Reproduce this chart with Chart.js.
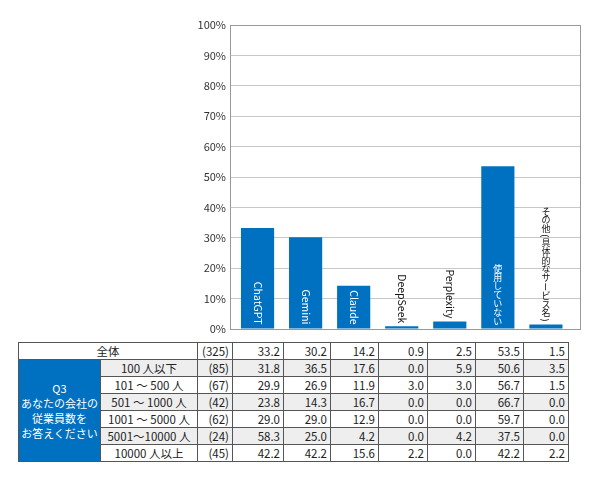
<!DOCTYPE html>
<html><head><meta charset="utf-8">
<script src="https://cdn.jsdelivr.net/npm/chart.js@4.4.1/dist/chart.umd.min.js"></script>
<style>
html,body{margin:0;padding:0;background:#fff;}
body{width:590px;height:491px;position:relative;overflow:hidden;font-family:"Noto Sans CJK JP","Noto Sans",sans-serif;}
#wrap{position:absolute;left:0;top:0;width:590px;height:340px;}
table{position:absolute;left:18px;top:342px;border-collapse:collapse;table-layout:fixed;font-size:11.5px;color:#222;}
tr{height:16px;}
td{border:1px solid #555;height:16px;padding:0 3px;line-height:13px;white-space:nowrap;overflow:hidden;}
td.num{text-align:right;}
td.lab{text-align:center;padding:0;}
td.q{background:#0070C0;color:#fff;text-align:center;line-height:15px;font-size:11px;padding:0;}
tr.g td.s{background:#eeeeee;}
</style></head>
<body>
<div id="wrap"><canvas id="c"></canvas></div>
<table id="t"></table>
<script>
const categories = ['ChatGPT','Gemini','Claude','DeepSeek','Perplexity','使用していない','その他(具体的なサービス名)'];
const totalLabel = '全体';
const totalN = 325;
const totalValues = [33.2, 30.2, 14.2, 0.9, 2.5, 53.5, 1.5];
const questionLabel = ['Q3','あなたの会社の','従業員数を','お答えください'];
const groupLabels = ['100 人以下','101 ～ 500 人','501 ～ 1000 人','1001 ～ 5000 人','5001～10000 人','10000 人以上'];
const groupN = [85, 67, 42, 62, 24, 45];
const groupValues = [
  [31.8, 36.5, 17.6, 0.0, 5.9, 50.6, 3.5],
  [29.9, 26.9, 11.9, 3.0, 3.0, 56.7, 1.5],
  [23.8, 14.3, 16.7, 0.0, 0.0, 66.7, 0.0],
  [29.0, 29.0, 12.9, 0.0, 0.0, 59.7, 0.0],
  [58.3, 25.0, 4.2, 0.0, 4.2, 37.5, 0.0],
  [42.2, 42.2, 15.6, 2.2, 0.0, 42.2, 2.2]
];
const yTickValues = [0,10,20,30,40,50,60,70,80,90,100];

const BLUE = '#0070C0';
const FONT = '"Noto Sans CJK JP","Noto Sans",sans-serif';

const framePlugin = {
  id:'frame',
  beforeDatasetsDraw(chart){
    const {ctx, chartArea:a} = chart;
    ctx.save();
    ctx.strokeStyle = '#999';
    ctx.lineWidth = 1;
    ctx.strokeRect(Math.round(a.left)+0.5, Math.round(a.top)+0.5, Math.round(a.right-a.left)-1, Math.round(a.bottom-a.top));
    ctx.restore();
  }
};

function isJa(s){ return /[\u3040-\u30ff\u4e00-\u9fff]/.test(s); }
const ROT = '()ー（）';

const labelPlugin = {
  id:'barLabels',
  afterDatasetsDraw(chart){
    const ctx = chart.ctx;
    const meta = chart.getDatasetMeta(0);
    meta.data.forEach((bar, i) => {
      const text = categories[i];
      const cx = bar.x;
      const top = bar.y, base = bar.base;
      ctx.save();
      if (isJa(text)) {
        const fs = 9;
        ctx.font = fs + 'px ' + FONT;
        const chars = [...text];
        const adv = chars.map(ch => ROT.includes(ch) ? (ch==='ー'? 8.8 : 5) : 8.8);
        const len = adv.reduce((s,v)=>s+v,0);
        let inside = (base - top) > len + 8;
        let endY = inside ? base - 3 : top - 2;
        ctx.fillStyle = inside ? '#fff' : '#111';
        let y = endY - len;
        ctx.textAlign = 'center'; ctx.textBaseline = 'middle';
        chars.forEach((ch, k) => {
          const cy = y + adv[k]/2;
          if (ROT.includes(ch)) {
            ctx.save(); ctx.translate(cx, cy); ctx.rotate(Math.PI/2); ctx.fillText(ch, 0, 0); ctx.restore();
          } else {
            ctx.fillText(ch, cx, cy);
          }
          y += adv[k];
        });
      } else {
        ctx.font = '10.5px ' + FONT;
        const len = ctx.measureText(text).width;
        let inside = (base - top) > len + 8;
        let endY = inside ? base - 4 : top - 3;
        ctx.fillStyle = inside ? '#fff' : '#111';
        ctx.translate(cx, endY);
        ctx.rotate(Math.PI/2);
        ctx.textAlign = 'right'; ctx.textBaseline = 'middle';
        ctx.fillText(text, 0, 0);
      }
      ctx.restore();
    });
  }
};

new Chart(document.getElementById('c'), {
  type:'bar',
  data:{
    datasets:[{
      data: totalValues.map((v,i)=>({x:i, y:v})),
      backgroundColor: BLUE,
      borderWidth:0,
      barPercentage:0.69,
      categoryPercentage:1
    }]
  },
  options:{
    responsive:true, maintainAspectRatio:false, animation:false,
    devicePixelRatio:1,
    layout:{padding:{top:25,right:9,bottom:11,left:0}},
    plugins:{legend:{display:false}, tooltip:{enabled:false}},
    scales:{
      x:{type:'linear', min:-0.573, max:6.73, offset:false, display:false},
      y:{
        min:0, max:100,
        afterBuildTicks(s){ s.ticks = yTickValues.map(v=>({value:v})); },
        afterFit(s){ s.width = 230; },
        border:{display:false},
        grid:{color:'#c8c8c8', lineWidth:1, drawTicks:false, borderDash:[1,2]},
        ticks:{padding:4, color:'#333', font:{family:FONT, size:11}, callback:v=>v+'%'}
      }
    }
  },
  plugins:[framePlugin, labelPlugin]
});

// table
const colW = [82, 97, 35, 51, 47, 48, 49, 48, 48, 45];
const t = document.getElementById('t');
const cg = document.createElement('colgroup');
colW.forEach(w=>{const c=document.createElement('col'); c.style.width=w+'px'; cg.appendChild(c);});
t.appendChild(cg);
function fmt(v){ return v.toFixed(1); }
let tr = document.createElement('tr');
tr.innerHTML = `<td class="lab" colspan="2">${totalLabel}</td><td class="num">(${totalN})</td>` + totalValues.map(v=>`<td class="num">${fmt(v)}</td>`).join('');
t.appendChild(tr);
groupLabels.forEach((lab, r) => {
  tr = document.createElement('tr');
  if (r % 2 === 0) tr.className = 'g';
  let h = '';
  if (r === 0) h += `<td class="q" rowspan="${groupLabels.length}">${questionLabel.join('<br>')}</td>`;
  h += `<td class="lab s">${lab}</td><td class="num s">(${groupN[r]})</td>` + groupValues[r].map(v=>`<td class="num s">${fmt(v)}</td>`).join('');
  tr.innerHTML = h;
  t.appendChild(tr);
});
</script>
</body></html>
